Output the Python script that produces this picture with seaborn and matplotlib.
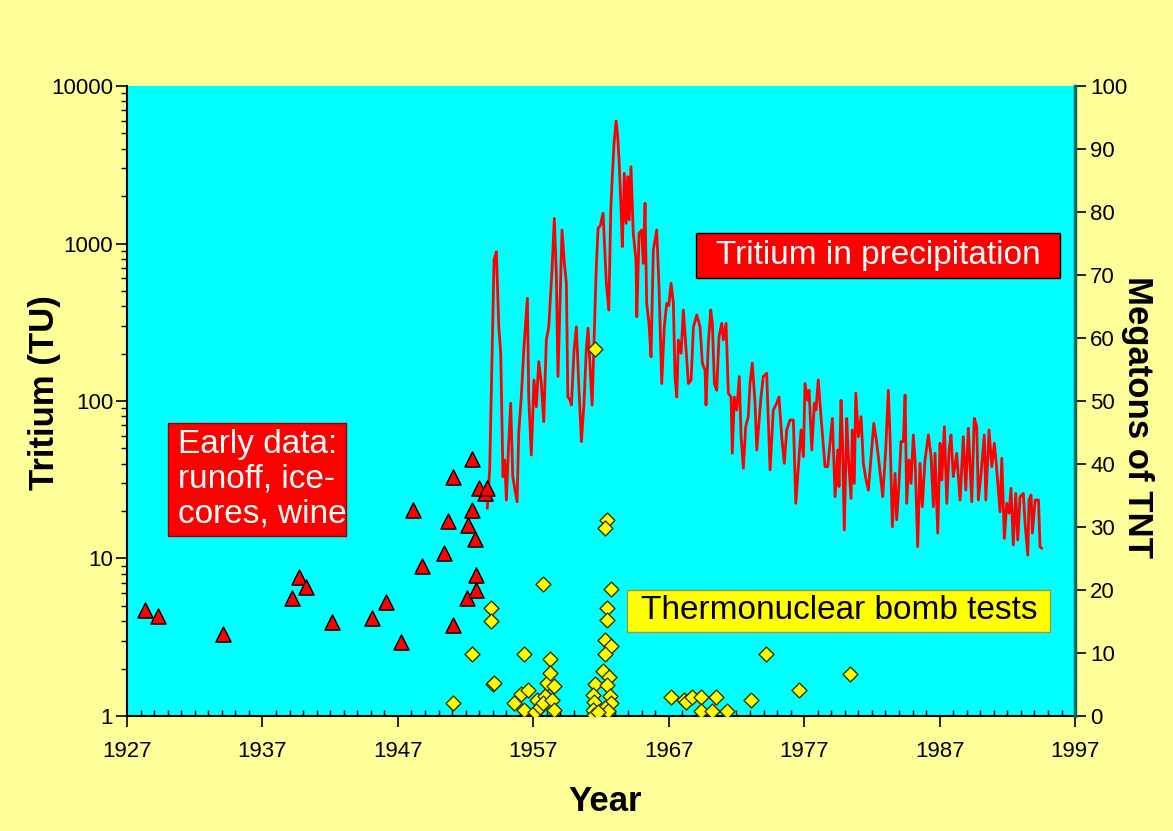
import matplotlib
matplotlib.use("Agg")
import matplotlib.pyplot as plt
from matplotlib.patches import Rectangle
from matplotlib.ticker import MultipleLocator, LogLocator, NullFormatter, FixedLocator, FixedFormatter
import seaborn as sns
import pandas as pd

# ---------------------------------------------------------------------------
# Data
# ---------------------------------------------------------------------------
# Early tritium estimates (runoff, ice cores, wine), TU
early_year = [1928.3, 1929.3, 1934.1, 1939.2, 1939.7, 1940.2, 1942.1, 1945.1,
              1946.1, 1947.2, 1948.1, 1948.8, 1950.4, 1950.7, 1951.1, 1951.1,
              1952.1, 1952.2, 1952.5, 1952.5, 1952.7, 1952.8, 1952.8, 1953.0,
              1953.4, 1953.6]
early_tu = [4.7, 4.3, 3.3, 5.6, 7.6, 6.6, 3.95, 4.2,
            5.3, 2.95, 20.3, 8.9, 10.9, 17.3, 32.8, 3.8,
            5.6, 16.3, 43.0, 20.3, 13.3, 7.9, 6.3, 27.9,
            25.9, 27.9]

# Tritium in precipitation, TU
precip_year = [
    1953.60, 1953.78, 1954.10, 1954.27, 1954.45, 1954.59, 1954.76, 1954.89,
    1955.01, 1955.18, 1955.33, 1955.48, 1955.80, 1955.92, 1956.11, 1956.31,
    1956.56, 1956.66, 1956.85, 1957.05, 1957.22, 1957.40, 1957.59, 1957.77,
    1957.96, 1958.14, 1958.38, 1958.55, 1958.70, 1958.82, 1959.12, 1959.27,
    1959.44, 1959.55, 1959.70, 1959.81, 1960.01, 1960.18, 1960.35, 1960.55,
    1960.74, 1960.91, 1961.04, 1961.34, 1961.48, 1961.65, 1961.78, 1961.95,
    1962.15, 1962.39, 1962.57, 1962.72, 1962.83, 1962.96, 1963.11, 1963.23,
    1963.33, 1963.48, 1963.57, 1963.72, 1963.85, 1963.97, 1964.08, 1964.21,
    1964.38, 1964.58, 1964.64, 1964.81, 1965.00, 1965.12, 1965.25, 1965.37,
    1965.54, 1965.69, 1965.86, 1966.11, 1966.28, 1966.48, 1966.67, 1966.85,
    1967.00, 1967.17, 1967.34, 1967.46, 1967.59, 1967.71, 1967.91, 1968.08,
    1968.25, 1968.45, 1968.65, 1968.82, 1969.07, 1969.31, 1969.48, 1969.68,
    1969.75, 1969.92, 1970.10, 1970.22, 1970.37, 1970.54, 1970.71, 1970.91,
    1971.03, 1971.23, 1971.40, 1971.60, 1971.69, 1971.84, 1972.02, 1972.21,
    1972.34, 1972.51, 1972.68, 1972.87, 1973.00, 1973.17, 1973.37, 1973.50,
    1973.81, 1973.98, 1974.23, 1974.48, 1974.72, 1974.97, 1975.14, 1975.34,
    1975.53, 1975.71, 1975.95, 1976.20, 1976.38, 1976.57, 1976.77, 1976.94,
    1977.06, 1977.26, 1977.36, 1977.56, 1977.75, 1977.87, 1978.04, 1978.24,
    1978.54, 1978.74, 1979.08, 1979.28, 1979.48, 1979.57, 1979.72, 1979.82,
    1979.96, 1980.14, 1980.26, 1980.46, 1980.55, 1980.70, 1980.81, 1981.00,
    1981.20, 1981.37, 1981.57, 1981.74, 1981.94, 1982.14, 1982.36, 1982.53,
    1982.80, 1983.02, 1983.21, 1983.34, 1983.51, 1983.71, 1983.83, 1984.00,
    1984.15, 1984.32, 1984.45, 1984.57, 1984.74, 1984.89, 1985.06, 1985.19,
    1985.38, 1985.55, 1985.72, 1985.92, 1986.17, 1986.37, 1986.54, 1986.66,
    1986.86, 1987.03, 1987.16, 1987.35, 1987.53, 1987.70, 1987.84, 1988.01,
    1988.26, 1988.51, 1988.75, 1988.93, 1989.12, 1989.37, 1989.56, 1989.74,
    1989.86, 1990.06, 1990.30, 1990.41, 1990.65, 1990.85, 1991.04, 1991.22,
    1991.46, 1991.59, 1991.78, 1991.96, 1992.13, 1992.27, 1992.44, 1992.62,
    1992.77, 1992.94, 1993.18, 1993.31, 1993.51, 1993.60, 1993.75, 1993.85,
    1994.05, 1994.30, 1994.41, 1994.54,
]
precip_tu = [
    20.8, 37.4, 786, 887, 296, 201, 33.1, 42.2,
    23.5, 53.9, 96.7, 33.1, 22.9, 62.4, 106, 221,
    449, 106, 45.4, 136, 92, 178, 129, 73.9,
    244, 296, 679, 1445, 615, 143, 1218, 786,
    559, 106, 102, 94.3, 211, 296, 129, 55.2,
    96.7, 211, 290, 94.3, 232, 713, 1249, 1300,
    1555, 559, 378, 1633, 2655, 4325, 6000, 4766,
    3388, 1633, 955, 2790, 1343, 2655, 1413, 3073,
    1161, 786, 343, 1161, 1218, 748, 1799, 417,
    311, 191, 910, 1218, 532, 129, 296, 417,
    403, 559, 417, 143, 106, 244, 201, 378,
    232, 129, 136, 296, 352, 296, 174, 157,
    94.3, 232, 378, 311, 129, 117, 256, 311,
    244, 311, 112, 106, 46.5, 106, 87.7, 143,
    59.3, 37.4, 68.7, 79.5, 129, 174, 96.7, 48.9,
    106, 143, 150, 36.5, 87.7, 96.7, 106, 59.3,
    40.2, 65.5, 75.7, 75.7, 22.4, 38.3, 65.5, 44.3,
    129, 101, 117, 48.9, 96.7, 87.7, 136, 79.5,
    38.3, 38.3, 77.6, 24.7, 48.9, 28.6, 101, 59.3,
    15.2, 77.6, 44.3, 24.1, 65.5, 30.0, 112, 59.3,
    79.5, 40.2, 31.5, 27.2, 44.3, 72.2, 53.9, 40.2,
    24.7, 48.9, 117, 59.3, 15.9, 34.7, 17.6, 30.0,
    55.2, 55.2, 109, 22.4, 42.2, 30.0, 60.8, 42.2,
    11.9, 40.2, 21.3, 42.2, 60.8, 44.3, 21.3, 46.5,
    14.5, 53.9, 31.5, 68.7, 22.4, 48.9, 60.8, 33.1,
    46.5, 23.5, 59.3, 27.2, 67.1, 22.9, 77.6, 68.7,
    23.5, 34.7, 60.8, 23.5, 65.5, 38.3, 53.9, 36.5,
    19.8, 43.3, 13.4, 22.4, 19.4, 27.9, 12.2, 25.9,
    13.1, 24.7, 25.9, 16.7, 10.5, 23.5, 25.3, 14.5,
    23.5, 23.5, 11.9, 11.6,
]

# Thermonuclear bomb tests, megatons of TNT
test_year = [1951.05, 1952.5, 1953.9, 1953.9, 1954.05, 1954.1, 1955.6, 1956.3,
             1957.7, 1956.1, 1956.6, 1956.3, 1957.1, 1957.25, 1957.5, 1957.86,
             1957.74, 1958.0, 1958.2, 1958.2, 1958.5, 1958.4, 1958.5,
             1961.56, 1962.42, 1962.3, 1962.7, 1962.42, 1962.42, 1962.3, 1962.7,
             1962.3, 1962.17, 1962.6, 1961.58, 1962.42, 1961.43, 1962.66, 1961.5,
             1962.7, 1961.43, 1961.5, 1962.3, 1962.5, 1961.8,
             1967.2, 1968.1, 1968.3, 1968.7, 1969.4, 1969.4, 1970.2, 1970.5,
             1971.3, 1973.1, 1974.2, 1976.6, 1980.4]
test_mt = [2.1, 9.9, 17.2, 15.0, 5.0, 5.2, 2.1, 9.9,
           21.0, 3.5, 4.1, 1.0, 0.7, 2.5, 1.5, 3.1,
           2.0, 5.2, 9.0, 6.8, 4.7, 2.5, 1.0,
           58.2, 31.1, 29.8, 20.1, 17.2, 15.2, 12.0, 11.1,
           9.8, 7.2, 6.2, 5.1, 4.9, 3.3, 3.1, 2.3,
           2.1, 1.0, 0.2, 1.2, 0.8, 0.6,
           3.0, 2.5, 2.3, 3.0, 3.0, 0.85, 0.85, 3.0,
           0.85, 2.6, 9.8, 4.1, 6.7]

tu_ticks = [1, 10, 100, 1000, 10000]
tu_labels = ["1", "10", "100", "1000", "10000"]
year_ticks = list(range(1927, 1998, 10))
mt_ticks = list(range(0, 101, 10))

# ---------------------------------------------------------------------------
# Figure
# ---------------------------------------------------------------------------
sns.set_theme(style="ticks")
plt.rcParams["font.family"] = ["Liberation Sans", "DejaVu Sans"]
plt.rcParams.update({"text.color": "black", "axes.labelcolor": "black",
                     "xtick.color": "black", "ytick.color": "black"})

PAGE = "#FFFF99"
PLOT = "#00FFFF"

fig = plt.figure(figsize=(11.73, 8.31), dpi=100, facecolor=PAGE)
ax = fig.add_axes([0.1083, 0.1384, 0.8082, 0.7581])
ax.set_facecolor(PLOT)

precip = pd.DataFrame({"year": precip_year, "tu": precip_tu})
early = pd.DataFrame({"year": early_year, "tu": early_tu})
tests = pd.DataFrame({"year": test_year, "mt": test_mt})

sns.lineplot(data=precip, x="year", y="tu", ax=ax, color="#FF0000",
             linewidth=2.0, sort=False, estimator=None, zorder=2)
sns.scatterplot(data=early, x="year", y="tu", ax=ax, marker="^", s=120,
                color="#FF0000", edgecolor="black", linewidth=1.0, zorder=3)

ax.set_yscale("log")
ax.set_ylim(1, 10000)
ax.set_xlim(1927, 1997)

ax.yaxis.set_major_locator(FixedLocator(tu_ticks))
ax.yaxis.set_major_formatter(FixedFormatter(tu_labels))
ax.yaxis.set_minor_locator(LogLocator(base=10, subs=range(2, 10)))
ax.yaxis.set_minor_formatter(NullFormatter())
ax.set_xticks(year_ticks)
ax.xaxis.set_minor_locator(MultipleLocator(1))

ax.tick_params(axis="y", which="major", direction="out", length=8, width=1.2,
               labelsize=16, pad=2)
ax.tick_params(axis="y", which="minor", direction="out", length=4, width=1.0)
ax.tick_params(axis="x", which="major", direction="out", length=8, width=1.2,
               labelsize=16, pad=10)
ax.tick_params(axis="x", which="minor", direction="in", length=4, width=1.0)

for side in ("left", "bottom"):
    ax.spines[side].set_color("black")
    ax.spines[side].set_linewidth(1.5)
ax.spines["top"].set_visible(False)
ax.spines["right"].set_visible(False)

ax.set_xlabel("Year", fontsize=25, fontweight="bold", va="center")
ax.xaxis.set_label_coords(0.504, -0.135)
ax.set_ylabel("Tritium (TU)", fontsize=25, fontweight="bold", va="center")
ax.yaxis.set_label_coords(-0.087, 0.514)

# Right axis: bomb test yields
ax2 = ax.twinx()
sns.scatterplot(data=tests, x="year", y="mt", ax=ax2, marker="D", s=58,
                color="#FFFF00", edgecolor="#333300", linewidth=1.0, zorder=4)
ax2.set_ylim(0, 100)
ax2.set_xlim(1927, 1997)
ax2.set_yticks(mt_ticks)
ax2.tick_params(axis="y", which="major", direction="out", length=8, width=1.2,
                labelsize=16, pad=3)
ax2.spines["right"].set_color("#006A6A")
ax2.spines["right"].set_linewidth(2.5)
for side in ("left", "top", "bottom"):
    ax2.spines[side].set_visible(False)
ax2.set_ylabel("Megatons of TNT", fontsize=25, fontweight="bold",
               rotation=270, va="center")
ax2.yaxis.set_label_coords(1.066, 0.475)

# Annotation boxes
ax2.add_patch(Rectangle((0.0432, 0.2857), 0.1878, 0.1794, transform=ax2.transAxes,
                        facecolor="#FF0000", edgecolor="#990000", linewidth=1.0,
                        zorder=5))
ax2.text(0.0538, 0.3754, "Early data:\nrunoff, ice-\ncores, wine",
         transform=ax2.transAxes, ha="left", va="center", color="white",
         fontsize=24, linespacing=1.16, zorder=6)

ax2.add_patch(Rectangle((0.6002, 0.6952), 0.384, 0.0714, transform=ax2.transAxes,
                        facecolor="#FF0000", edgecolor="black", linewidth=1.0,
                        zorder=5))
ax2.text(0.7927, 0.731, "Tritium in precipitation", transform=ax2.transAxes,
         ha="center", va="center", color="white", fontsize=24, zorder=6)

ax2.add_patch(Rectangle((0.5274, 0.1333), 0.4462, 0.0667, transform=ax2.transAxes,
                        facecolor="#FFFF00", edgecolor="#9A9A40", linewidth=1.0,
                        zorder=5))
ax2.text(0.7516, 0.1667, "Thermonuclear bomb tests", transform=ax2.transAxes,
         ha="center", va="center", color="black", fontsize=24, zorder=6)

fig.savefig("out.png", dpi=100, facecolor=PAGE)
